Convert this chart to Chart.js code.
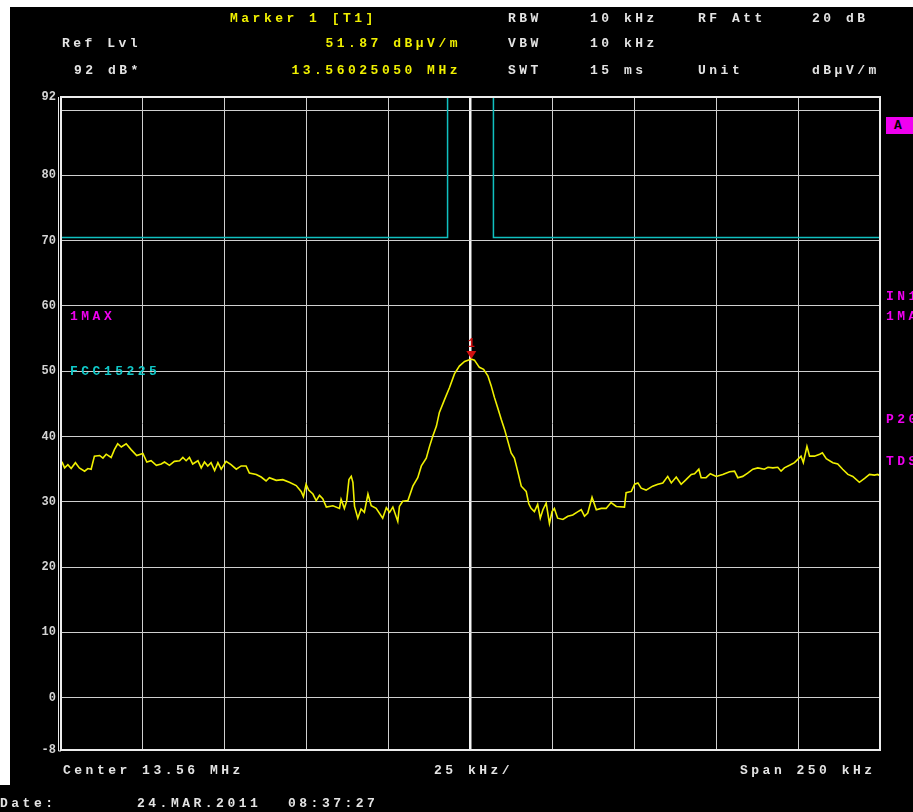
<!DOCTYPE html>
<html>
<head>
<meta charset="utf-8">
<script src="https://cdn.jsdelivr.net/npm/chart.js@4.4.1/dist/chart.umd.min.js"></script>
<style>
  body { margin: 0; background: #fff; overflow: hidden; }
  #wrap { position: relative; width: 913px; height: 812px; overflow: hidden; background: #fff; }
  #screen { position: absolute; left: 10px; top: 7px; width: 903px; height: 805px; background: #000; }
  #screen2 { position: absolute; left: 0; top: 785px; width: 913px; height: 27px; background: #000; }
  canvas { position: absolute; left: 0; top: 0; }
  .t { position: absolute; font-family: "Liberation Mono", monospace; font-weight: bold; font-size: 13px;
       letter-spacing: 3.5px; line-height: 13px; color: #e4e4e4; white-space: pre; transform: translateY(-50%); z-index: 2; }
  .y { color: #f0f000; }
  .m { color: #f000f0; }
  .c { color: #10c8c8; }
  .r { text-align: right; }
  #boxA { position: absolute; left: 886px; top: 117px; width: 30px; height: 17px; background: #f000f0; z-index: 2; }
</style>
</head>
<body>
<div id="wrap">
  <div id="screen"></div>
  <div id="screen2"></div>
  <canvas id="spec" width="913" height="812"></canvas>

  <div class="t y" style="left:230px;top:18px">Marker 1 [T1]</div>
  <div class="t" style="left:508px;top:18px">RBW</div>
  <div class="t" style="left:590px;top:18px">10 kHz</div>
  <div class="t" style="left:698px;top:18px">RF Att</div>
  <div class="t" style="left:812px;top:18px">20 dB</div>

  <div class="t" style="left:62px;top:43px">Ref Lvl</div>
  <div class="t y r" style="right:452px;top:43px">51.87 dBµV/m</div>
  <div class="t" style="left:508px;top:43px">VBW</div>
  <div class="t" style="left:590px;top:43px">10 kHz</div>

  <div class="t" style="left:74px;top:70px">92 dB*</div>
  <div class="t y r" style="right:452px;top:70px">13.56025050 MHz</div>
  <div class="t" style="left:508px;top:70px">SWT</div>
  <div class="t" style="left:590px;top:70px">15 ms</div>
  <div class="t" style="left:698px;top:70px">Unit</div>
  <div class="t" style="left:812px;top:70px">dBµV/m</div>

  <div class="t m" style="left:70px;top:316px">1MAX</div>
  <div class="t c" style="left:70px;top:371px">FCC15225</div>

  <div id="boxA"></div>
  <div class="t" style="left:894px;top:125px;color:#000">A</div>
  <div class="t m" style="left:886px;top:296px">IN1</div>
  <div class="t m" style="left:886px;top:316px">1MAX</div>
  <div class="t m" style="left:886px;top:419px">P20</div>
  <div class="t m" style="left:886px;top:461px">TDS</div>

  <div class="t" style="left:63px;top:770px">Center 13.56 MHz</div>
  <div class="t" style="left:434px;top:770px">25 kHz/</div>
  <div class="t" style="left:740px;top:770px">Span 250 kHz</div>
  <div class="t" style="left:0px;top:803px">Date:</div>
  <div class="t" style="left:137px;top:803px">24.MAR.2011</div>
  <div class="t" style="left:288px;top:803px">08:37:27</div>
</div>

<script>
// frequency offset from 13.56 MHz centre, kHz
var freqOffsetKHz = [
  -125, -124.6, -123.9, -122.9, -121.9, -120.6, -119.4, -117.8, -116.8, -115.8,
  -114.8, -113.2, -112.2, -111.2, -109.7, -108.7, -107.7, -106.6, -105.1, -103.6,
  -101.9, -100.0, -98.8, -97.5, -95.9, -94.4, -93.4, -91.9, -90.4, -88.8,
  -87.8, -86.8, -85.8, -84.8, -83.2, -82.2, -81.2, -80.2, -79.2, -78.1,
  -77.1, -76.1, -74.6, -73.1, -71.5, -70.0, -68.5, -67.5, -65.4, -63.9,
  -62.4, -61.4, -59.3, -57.3, -55.3, -53.2, -51.7, -51.0, -50.2, -49.4,
  -48.1, -47.1, -46.1, -45.1, -44.0, -42.0, -40.0, -39.5, -38.5, -37.8,
  -37.1, -36.4, -35.9, -35.4, -34.4, -33.4, -32.4, -31.3, -30.3, -28.8,
  -26.8, -25.7, -24.7, -23.7, -22.2, -21.7, -20.7, -19.1, -17.6, -16.1,
  -15.0, -13.5, -12.5, -11.5, -10.4, -9.5, -7.9, -6.4, -4.9, -3.4,
  -1.8, 0.25, 1.2, 2.7, 4.0, 5.3, 6.3, 7.3, 8.3, 9.4,
  10.4, 11.4, 12.4, 13.4, 14.4, 15.5, 17.0, 17.8, 18.5, 19.5,
  20.5, 21.3, 22.1, 23.1, 24.1, 24.9, 25.6, 26.6, 28.2, 29.7,
  31.2, 32.8, 33.8, 34.8, 35.8, 37.1, 38.4, 39.9, 41.4, 42.9,
  44.5, 47.0, 47.5, 49.1, 50.1, 51.1, 52.1, 53.6, 55.6, 57.2,
  58.7, 60.2, 61.3, 62.8, 64.3, 65.8, 67.4, 68.4, 69.7, 70.4,
  71.9, 73.2, 75.0, 77.0, 79.1, 80.6, 81.6, 83.1, 84.6, 86.2,
  87.7, 89.7, 90.8, 92.3, 93.8, 94.8, 95.8, 97.4, 98.9, 99.9,
  100.9, 101.6, 102.7, 103.5, 105.0, 106.6, 107.4, 108.6, 110.6, 112.1,
  113.6, 115.2, 116.7, 118.7, 120.3, 121.8, 123.3, 124.3, 125
];
// max hold trace, dBuV/m
var levelDbuv = [
  35.8, 36.0, 35.2, 35.7, 35.1, 36.0, 35.2, 34.7, 35.1, 35.0,
  37.0, 37.1, 36.7, 37.3, 36.8, 38.0, 38.9, 38.4, 38.9, 38.0,
  37.1, 37.4, 36.1, 36.3, 35.6, 35.8, 36.1, 35.6, 36.2, 36.3,
  36.8, 36.3, 36.8, 35.8, 36.3, 35.2, 36.1, 35.5, 36.0, 34.8,
  36.0, 35.0, 36.2, 35.7, 35.0, 35.5, 35.5, 34.4, 34.2, 33.8,
  33.2, 33.7, 33.3, 33.4, 33.0, 32.5, 31.6, 30.8, 32.7, 31.8,
  31.2, 30.2, 31.0, 30.5, 29.2, 29.4, 29.0, 30.4, 29.0, 30.1,
  33.4, 33.9, 33.0, 29.3, 27.5, 28.9, 28.4, 31.2, 29.4, 29.0,
  27.5, 29.1, 28.4, 29.2, 27.0, 29.3, 30.1, 30.2, 32.4, 33.7,
  35.5, 36.7, 38.5, 40.1, 41.6, 43.7, 45.7, 47.5, 49.6, 50.8,
  51.5, 51.87, 51.7, 50.6, 50.3, 49.3, 47.8, 46.0, 44.4, 42.6,
  41.1, 39.3, 37.5, 36.7, 34.7, 32.4, 31.6, 29.7, 29.0, 28.5,
  29.6, 27.5, 28.8, 29.8, 26.7, 28.5, 29.0, 27.5, 27.3, 27.8,
  28.0, 28.5, 28.8, 27.8, 28.3, 30.7, 28.8, 29.0, 29.0, 29.9,
  29.3, 29.2, 31.4, 31.6, 32.7, 32.9, 32.1, 31.8, 32.4, 32.7,
  32.9, 33.9, 32.9, 33.8, 32.7, 33.4, 34.2, 34.3, 35.0, 33.7,
  33.7, 34.3, 33.9, 34.2, 34.6, 34.7, 33.7, 33.9, 34.4, 35.0,
  35.2, 35.0, 35.3, 35.2, 35.3, 34.7, 35.2, 35.6, 36.0, 36.5,
  37.0, 36.0, 38.5, 37.0, 37.0, 37.3, 37.5, 36.6, 36.0, 35.8,
  35.0, 34.2, 33.9, 33.0, 33.6, 34.2, 34.1, 34.2, 34.0
];
// FCC 15.225 limit line (in-band part is above the display range)
var limitOffsetKHz = [-125, -7, -7, 7, 7, 125];
var limitDbuv = [70.5, 70.5, 120, 120, 70.5, 70.5];
// marker 1
var markerOffsetKHz = [0.25];
var markerDbuv = [51.87];
var yTickValues = [-8, 0, 10, 20, 30, 40, 50, 60, 70, 80, 90, 92];

function toPoints(xs, ys) {
  return xs.map(function(x, i) { return { x: x, y: ys[i] }; });
}

var framePlugin = {
  id: 'frame',
  afterDatasetsDraw: function(chart) {
    var ctx = chart.ctx, a = chart.chartArea;
    var xs = chart.scales.x, ys = chart.scales.y;
    ctx.save();
    ctx.strokeStyle = '#ececec';
    ctx.lineWidth = 2;
    ctx.strokeRect(a.left, a.top, a.right - a.left, a.bottom - a.top);
    ctx.lineWidth = 1;
    ctx.beginPath();
    ctx.moveTo(a.left - 2.5, a.top);
    ctx.lineTo(a.left - 2.5, a.bottom + 1);
    ctx.lineTo(a.left, a.bottom + 1);
    ctx.stroke();
    // marker triangle + label
    markerOffsetKHz.forEach(function(f, i) {
      var px = xs.getPixelForValue(f), py = ys.getPixelForValue(markerDbuv[i]);
      ctx.fillStyle = '#d01010';
      ctx.beginPath();
      ctx.moveTo(px - 5, py - 8);
      ctx.lineTo(px + 5, py - 8);
      ctx.lineTo(px, py);
      ctx.closePath();
      ctx.fill();
      ctx.font = 'bold 12px "Liberation Mono", monospace';
      ctx.textAlign = 'center';
      ctx.textBaseline = 'middle';
      ctx.fillText(String(i + 1), px, py - 15);
    });
    ctx.restore();
  }
};

var ctx = document.getElementById('spec').getContext('2d');
var chart = new Chart(ctx, {
  type: 'line',
  data: {
    datasets: [
      {
        label: '1MAX',
        data: toPoints(freqOffsetKHz, levelDbuv),
        borderColor: '#f0f000',
        borderWidth: 1.6,
        pointRadius: 0,
        tension: 0
      },
      {
        label: 'FCC15225',
        data: toPoints(limitOffsetKHz, limitDbuv),
        borderColor: '#10c0c0',
        borderWidth: 1.5,
        pointRadius: 0,
        tension: 0
      }
    ]
  },
  options: {
    responsive: false,
    animation: false,
    devicePixelRatio: 1,
    layout: { padding: { left: 10, top: 97, right: 33, bottom: 62 } },
    plugins: { legend: { display: false }, tooltip: { enabled: false } },
    scales: {
      x: {
        type: 'linear',
        min: -125,
        max: 125,
        ticks: { display: false, stepSize: 25 },
        border: { display: false },
        grid: {
          drawTicks: false,
          color: function(c) {
            if (Math.abs(c.tick.value) === 125) return 'rgba(0,0,0,0)';
            return c.tick.value === 0 ? '#f4f4f4' : '#cfcfcf';
          },
          lineWidth: function(c) { return c.tick.value === 0 ? 2.5 : 1; }
        },
        afterFit: function(s) { s.height = 0; }
      },
      y: {
        min: -8,
        max: 92,
        afterBuildTicks: function(s) {
          s.ticks = yTickValues.map(function(v) { return { value: v }; });
        },
        ticks: {
          padding: 5,
          color: '#d4d4d4',
          font: { family: '"Liberation Mono", monospace', size: 12, weight: 'bold' },
          callback: function(v) { return v === 90 ? '' : String(v); }
        },
        border: { display: false },
        grid: {
          drawTicks: false,
          color: function(c) {
            var v = c.tick.value;
            return (v === -8 || v === 92) ? 'rgba(0,0,0,0)' : '#cfcfcf';
          }
        },
        afterFit: function(s) { s.width = 51; }
      }
    }
  },
  plugins: [framePlugin]
});
</script>
</body>
</html>
